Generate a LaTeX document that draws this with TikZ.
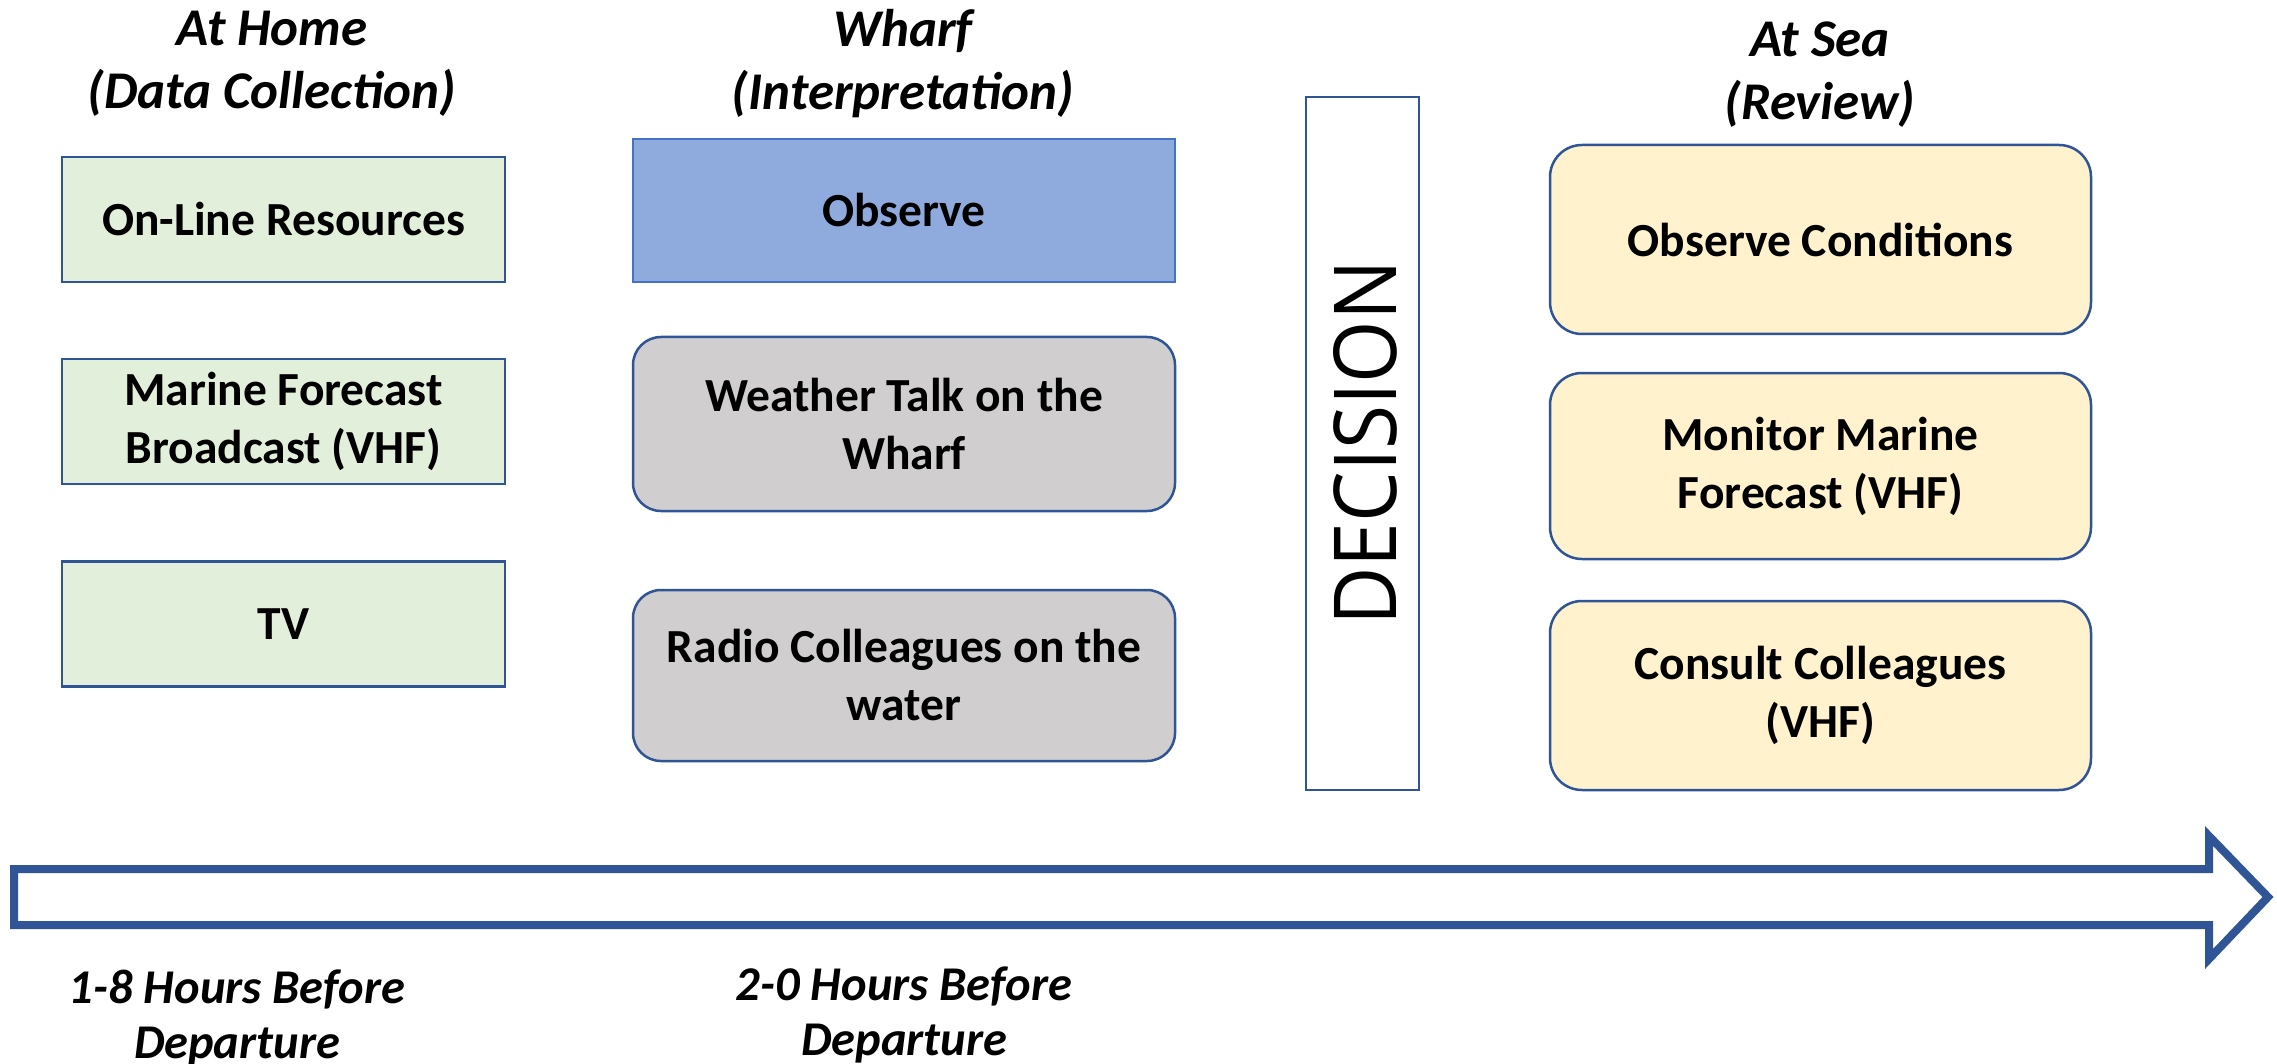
\documentclass[tikz,border=0pt]{standalone}
\usepackage{fontspec}
\usepackage{graphicx}
\setmainfont{Carlito}
\newfontfamily\decfont{Open Sans}
\definecolor{bdark}{HTML}{2F5597}
\definecolor{bmid}{HTML}{4472C4}
\definecolor{gfill}{HTML}{E2EFDA}
\definecolor{ofill}{HTML}{8FAADC}
\definecolor{gyfill}{HTML}{D0CECE}
\definecolor{yfill}{HTML}{FFF2CC}
\tikzset{
  boxbase/.style={inner sep=0pt, outer sep=0pt, align=center,
    font=\bfseries\fontsize{47.5}{58}\selectfont},
  homebox/.style={boxbase, draw=bdark, line width=2.5pt, fill=gfill,
    minimum width=443pt, minimum height=125pt},
  obsbox/.style={boxbase, draw=bmid, line width=2.5pt, fill=ofill,
    minimum width=542pt},
  wharfbox/.style={boxbase, draw=bdark, line width=2.5pt, fill=gyfill,
    rounded corners=28pt, minimum width=542pt},
  seabox/.style={boxbase, draw=bdark, line width=2.5pt, fill=yfill,
    rounded corners=32pt, minimum width=541pt},
  heading/.style={align=center, inner sep=0pt,
    font=\bfseries\itshape\fontsize{53}{63}\selectfont},
  timelabel/.style={align=center, inner sep=0pt,
    font=\bfseries\itshape\fontsize{48.5}{55}\selectfont},
}
\begin{document}
\begin{tikzpicture}[x=1pt,y=-1pt]
\useasboundingbox (0,0) rectangle (2277,1064);
\fill[white] (0,0) rectangle (2277,1064);

% headings
\node[heading] (hhome) at (272,64) {At Home\\(Data Collection)};
\node[heading] (hwharf) at (903,64) {Wharf\\(Interpretation)};
\node[heading] (hsea) at (1820,75) {At Sea\\(Review)};

% at home
\node[homebox] (online) at (283.5,219.5) {On-Line Resources};
\node[homebox] (marine) at (283.5,421.5) {Marine Forecast\\Broadcast (VHF)};
\node[homebox] (tv) at (283.5,624) {TV};

% wharf
\node[obsbox, minimum height=143pt] (observe) at (904,210.5) {Observe};
\node[wharfbox, minimum height=174pt] (talk) at (904,424) {Weather Talk on the\\Wharf};
\node[wharfbox, minimum height=171pt] (radio) at (904,675.5) {Radio Colleagues on the\\water};

% decision
\node[draw=bdark, line width=2pt, fill=white, inner sep=0pt, outer sep=0pt,
  minimum width=113pt, minimum height=693pt] (decbox) at (1362.5,443.5) {};
\node[rotate=90, inner sep=0pt] (dectext) at (1365,443)
  {\resizebox{365pt}{63pt}{\decfont DECISION}};

% at sea
\node[seabox, minimum height=189pt] (obscond) at (1820.5,239.5) {Observe Conditions};
\node[seabox, minimum height=186pt] (monitor) at (1820.5,466) {Monitor Marine\\Forecast (VHF)};
\node[seabox, minimum height=189pt] (consult) at (1820.5,695.5) {Consult Colleagues\\(VHF)};

% timeline arrow
\draw[draw=bdark, line width=8pt, fill=white, line join=miter]
  (14,869) -- (2209,869) -- (2209,836) -- (2268,897) -- (2209,959)
  -- (2209,925) -- (14,925) -- cycle;

% time labels
\node[timelabel] (t1) at (237,1018) {1-8 Hours Before\\Departure};
\node[timelabel] (t2) at (904,1015) {2-0 Hours Before\\Departure};
\end{tikzpicture}
\end{document}
